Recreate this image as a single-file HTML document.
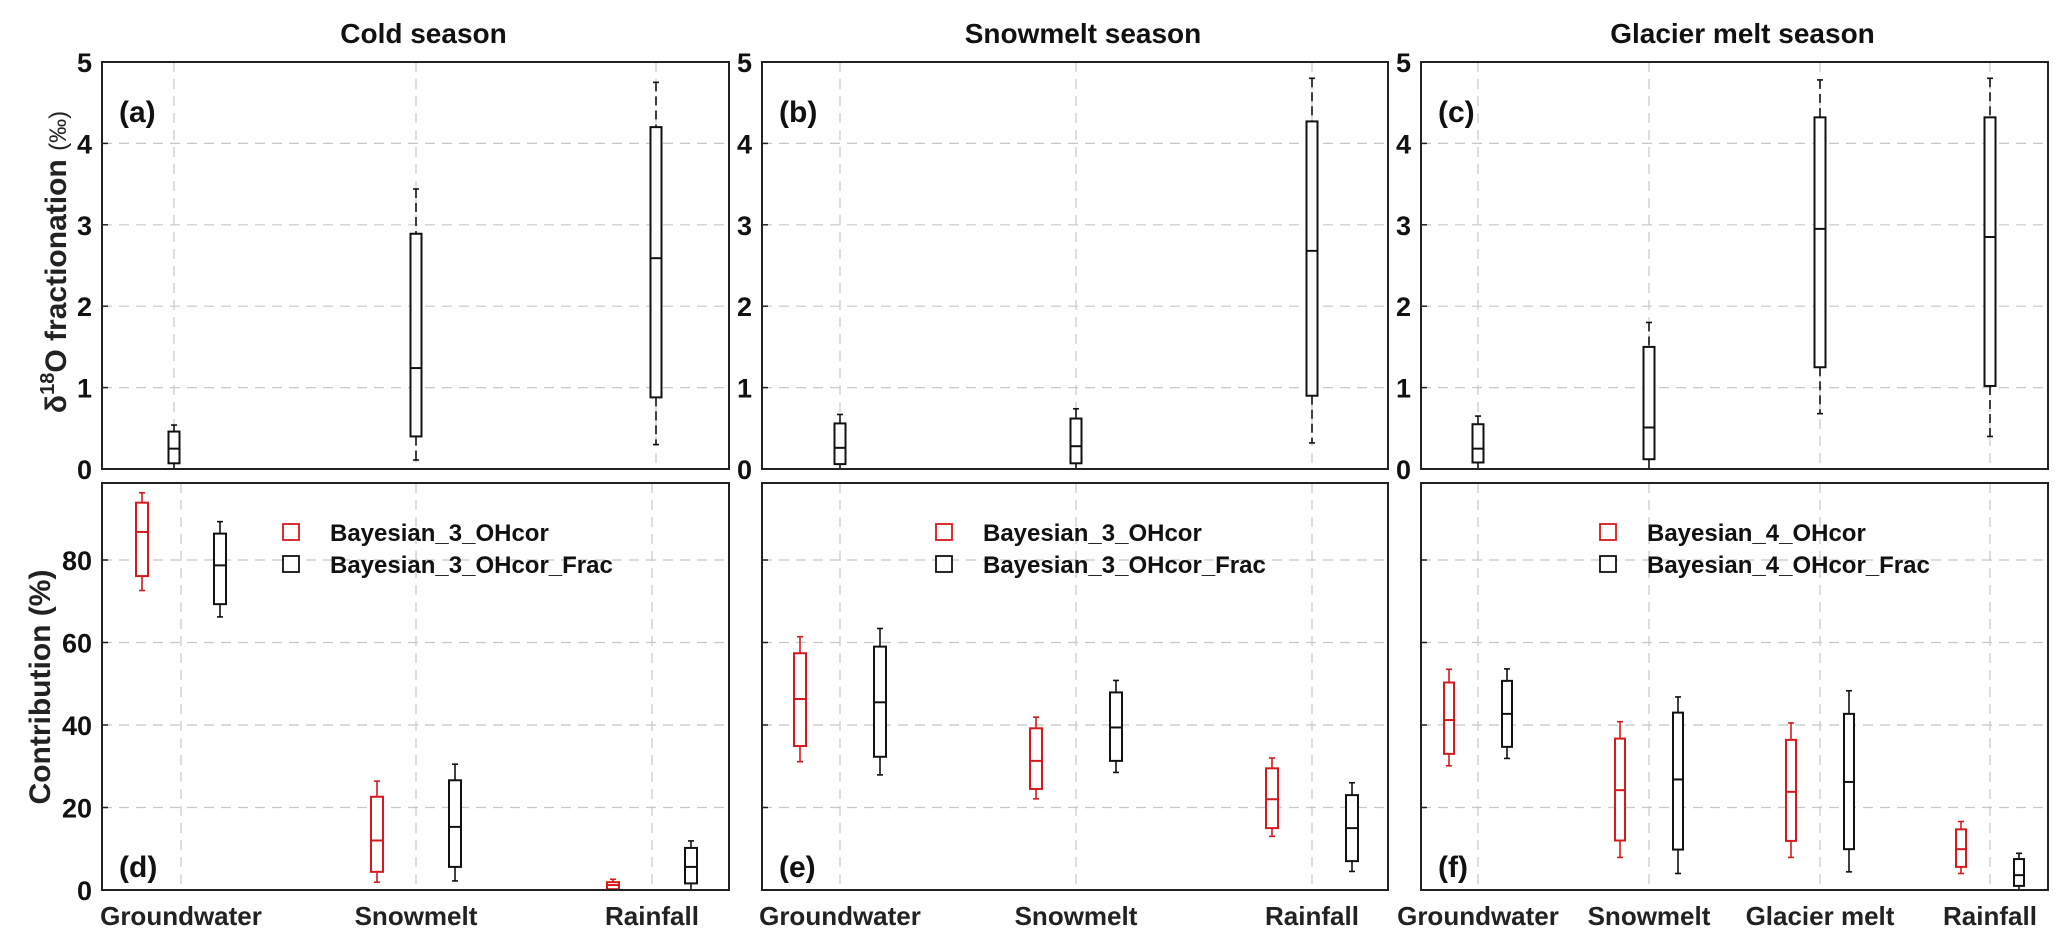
<!DOCTYPE html>
<html><head><meta charset="utf-8"><style>
html,body{margin:0;padding:0;background:#fff;}
svg{display:block;font-family:"Liberation Sans",Arial,sans-serif;font-weight:bold;}
</style></head><body>
<svg id="fig" width="2067" height="948" viewBox="0 0 2067 948" xmlns="http://www.w3.org/2000/svg"></svg>
<script>
// ---------- data ----------
// top row: delta18O fractionation per source [low, q1, median, q3, high]
const catsA = ["Groundwater","Snowmelt","Rainfall"];
const fracA = [[0,0.07,0.25,0.46,0.54],[0.11,0.40,1.24,2.89,3.44],[0.30,0.88,2.59,4.20,4.75]];
const catsB = ["Groundwater","Snowmelt","Rainfall"];
const fracB = [[0,0.06,0.26,0.56,0.67],[0,0.07,0.28,0.62,0.74],[0.32,0.90,2.68,4.27,4.80]];
const catsC = ["Groundwater","Snowmelt","Glacier melt","Rainfall"];
const fracC = [[0,0.08,0.25,0.55,0.65],[0,0.12,0.51,1.50,1.80],[0.68,1.25,2.95,4.32,4.78],[0.40,1.02,2.85,4.32,4.80]];
// bottom row: contribution (%) [low, q1, median, q3, high]
const contD_red = [[72.6,76.1,86.8,93.9,96.3],[1.9,4.4,12.0,22.6,26.4],[0,0.2,1.2,1.9,2.6]];
const contD_blk = [[66.2,69.3,78.7,86.4,89.3],[2.2,5.6,15.3,26.6,30.5],[0,1.6,5.6,10.2,11.9]];
const contE_red = [[31.1,34.9,46.3,57.4,61.4],[22.1,24.5,31.3,39.2,41.9],[13,15,22,29.5,32]];
const contE_blk = [[27.9,32.3,45.5,59.0,63.4],[28.5,31.3,39.4,47.9,50.8],[4.5,7,15,23,26]];
const contF_red = [[30.1,33.0,41.2,50.3,53.5],[7.9,12.0,24.2,36.7,40.8],[7.9,11.9,23.8,36.4,40.5],[4.0,5.6,9.9,14.7,16.6]];
const contF_blk = [[31.9,34.7,42.7,50.7,53.6],[4.0,9.8,26.8,43.0,46.8],[4.4,9.9,26.2,42.7,48.3],[0,1.0,3.6,7.5,8.9]];
const titles = ["Cold season","Snowmelt season","Glacier melt season"];
const fracTicks = [0,1,2,3,4,5];
const contTicks = [0,20,40,60,80];
const legA = ["Bayesian_3_OHcor","Bayesian_3_OHcor_Frac"];
const legB = ["Bayesian_3_OHcor","Bayesian_3_OHcor_Frac"];
const legC = ["Bayesian_4_OHcor","Bayesian_4_OHcor_Frac"];

// ---------- helpers ----------
const NS="http://www.w3.org/2000/svg";
const svg=document.getElementById('fig');
function mk(tag,attrs,parent,text){const e=document.createElementNS(NS,tag);for(const k in attrs)e.setAttribute(k,attrs[k]);if(text!==undefined)e.textContent=text;(parent||svg).appendChild(e);return e;}
const RED="#d7191c";
const panelsX=[[102,729],[762,1388],[1421,2048]];
const TOP=[62,469], BOT=[483,890];
function yTop(v){return TOP[1]-(TOP[1]-TOP[0])*v/5;}
function yBot(v){return BOT[1]-v*4.125;}

function grid(g,x0,x1,y0,y1,xs,ys){
  xs.forEach(x=>{const l=mk('line',{x1:x,x2:x,y1:y0,y2:y1,stroke:'#c8c8c8','stroke-width':1.2,'stroke-dasharray':'10 7'},g);
    });
  ys.forEach(y=>{const l=mk('line',{x1:x0,x2:x1,y1:y,y2:y,stroke:'#c8c8c8','stroke-width':1.2,'stroke-dasharray':'10 7'},g);
    });
}
function box(g,cx,w,st,ymap,color,dashed){
  const [lo,q1,md,q3,hi]=st.map(ymap);
  const sw=1.6;
  const wa={stroke:color,'stroke-width':sw};if(dashed)wa['stroke-dasharray']='9 5';
  let l=mk('line',Object.assign({x1:cx,x2:cx,y1:hi,y2:q3},wa),g);
  l=mk('line',Object.assign({x1:cx,x2:cx,y1:q1,y2:lo},wa),g);
  l=mk('line',{x1:cx-3,x2:cx+3,y1:hi,y2:hi,stroke:color,'stroke-width':sw},g);
  l=mk('line',{x1:cx-3,x2:cx+3,y1:lo,y2:lo,stroke:color,'stroke-width':sw},g);
  const r=mk('rect',{x:cx-w/2,y:q3,width:w,height:Math.max(q1-q3,1),fill:'#fff',stroke:color,'stroke-width':2},g);
  
  l=mk('line',{x1:cx-w/2,x2:cx+w/2,y1:md,y2:md,stroke:color,'stroke-width':2},g);
}
function frame(g,x0,x1,y0,y1){
  const r=mk('rect',{x:x0,y:y0,width:x1-x0,height:y1-y0,fill:'none',stroke:'#222','stroke-width':2},g);
  
}
function catX(i,n,x0,x1,first,step){return first+i*step;}

// ---------- top row ----------
const fracData=[fracA,fracB,fracC];
const fracCats=[catsA,catsB,catsC];
const topCatX=[[174,416,656],[840,1076,1312],[1478,1649,1820,1990]];
const letters=["(a)","(b)","(c)","(d)","(e)","(f)"];
for(let p=0;p<3;p++){
  const [x0,x1]=panelsX[p];
  const g=mk('g',{});
  const t=mk('text',{x:(x0+x1)/2+8,y:43,'text-anchor':'middle','font-size':28,fill:'#111'},g,titles[p]);
  
  grid(g,x0,x1,TOP[0],TOP[1],topCatX[p],fracTicks.slice(1,5).map(yTop));
  fracTicks.forEach(v=>{const tx=mk('text',{x:x0-10,y:yTop(v)+10,'text-anchor':'end','font-size':27,fill:'#111'},g,String(v));
    
    const tk=mk('line',{x1:x0,x2:x0+6,y1:yTop(v),y2:yTop(v),stroke:'#222','stroke-width':1.5},g);});
  fracData[p].forEach((st,i)=>box(g,topCatX[p][i],11,st,yTop,'#111',true));
  frame(g,x0,x1,TOP[0],TOP[1]);
  const lt=mk('text',{x:x0+17,y:122,'font-size':30,fill:'#111'},g,letters[p]);
  
}
// ---------- bottom row ----------
const redData=[contD_red,contE_red,contF_red], blkData=[contD_blk,contE_blk,contF_blk];
const botCatX=[[181,416,652],[840,1076,1312],[1478,1649,1820,1990]];
const offs=[39,40,29], bw=[12,12,10];
const legs=[legA,legB,legC];
const legX=[283,936,1600];
for(let p=0;p<3;p++){
  const [x0,x1]=panelsX[p];
  const g=mk('g',{});
  grid(g,x0,x1,BOT[0],BOT[1],botCatX[p],contTicks.slice(1).map(yBot));
  contTicks.forEach(v=>{
    const tk=mk('line',{x1:x0,x2:x0+6,y1:yBot(v),y2:yBot(v),stroke:'#222','stroke-width':1.5},g);
    if(p===0){const tx=mk('text',{x:x0-10,y:yBot(v)+10,'text-anchor':'end','font-size':27,fill:'#111'},g,String(v));
      }});
  fracCats[p].forEach((c,i)=>{
    const cx=botCatX[p][i];
    box(g,cx-offs[p],bw[p],redData[p][i],yBot,RED,false);
    box(g,cx+offs[p],bw[p],blkData[p][i],yBot,'#111',false);
    const tx=mk('text',{x:cx,y:925,'text-anchor':'middle','font-size':26,fill:'#222'},g,c);
    
  });
  frame(g,x0,x1,BOT[0],BOT[1]);
  const lt=mk('text',{x:x0+17,y:877,'font-size':30,fill:'#111'},g,letters[p+3]);
  
  // legend
  const lg=mk('g',{},g);
  [RED,'#111'].forEach((col,k)=>{
    const yy=[524,556][k];
    const s=mk('rect',{x:legX[p],y:yy,width:16,height:16,fill:'#fff',stroke:col,'stroke-width':1.8},lg);
    
    const tx=mk('text',{x:legX[p]+47,y:yy+17,'font-size':24,fill:'#111'},lg,legs[p][k]);
    
  });
}
// y axis titles
const yt1=mk('text',{transform:'translate(66,262) rotate(-90)','text-anchor':'middle','font-size':30,fill:'#222'});

yt1.innerHTML='δ<tspan font-size="20" dy="-12">18</tspan><tspan dy="12">O fractionation </tspan><tspan font-size="24" font-weight="normal">(‰)</tspan>';
const yt2=mk('text',{transform:'translate(50,687) rotate(-90)','text-anchor':'middle','font-size':30,fill:'#222'},svg,'Contribution (%)');

</script>
</body></html>
